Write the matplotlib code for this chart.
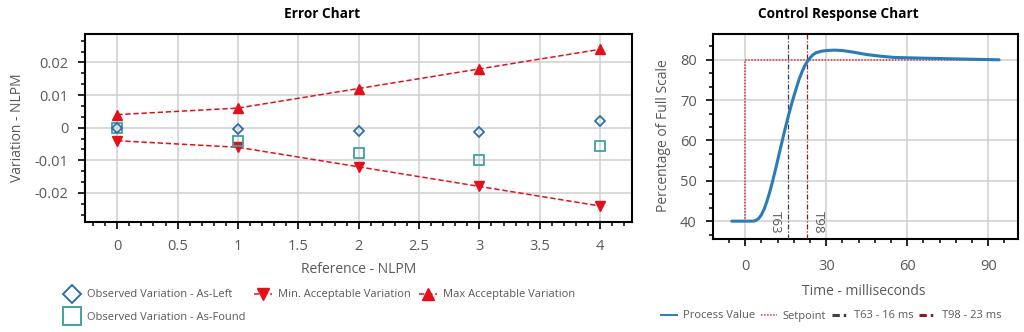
import matplotlib
matplotlib.use("Agg")
import matplotlib.pyplot as plt
from matplotlib.ticker import MultipleLocator, FuncFormatter
from matplotlib.lines import Line2D

plt.rcParams['font.family'] = ['Open Sans', 'DejaVu Sans']

# ---- Error chart data ----
reference = [0, 1, 2, 3, 4]
as_left = [0.0, -0.0004, -0.0009, -0.0014, 0.0021]
as_found = [0.0, -0.0041, -0.0077, -0.0098, -0.0056]
min_acceptable = [-0.004, -0.006, -0.012, -0.018, -0.024]
max_acceptable = [0.004, 0.006, 0.012, 0.018, 0.024]

# ---- Control response data ----
time_ms = [-5, 3, 4, 5, 6, 7, 8, 9, 10, 11, 12, 13, 14, 15, 16, 17, 18, 19, 20,
           21, 22, 23, 24, 25, 26, 28, 30, 33, 36, 40, 45, 50, 55, 60, 70, 80, 94]
process_value = [40, 40, 40.2, 40.7, 41.6, 43.0, 44.9, 47.1, 49.6, 52.3, 55.1, 58.0,
                 60.8, 63.6, 66.2, 68.7, 71.0, 73.2, 75.3, 77.0, 78.5, 79.6, 80.5,
                 81.2, 81.7, 82.1, 82.3, 82.4, 82.3, 81.9, 81.3, 80.9, 80.6, 80.5,
                 80.35, 80.2, 80.0]
setpoint_time = [-5, 0, 0, 94]
setpoint_value = [40, 40, 80, 80]
t63 = 16
t98 = 23

RED = '#e3101c'
GRID = '#d0d0d0'
LABEL = '#595959'


def fmt_num(v, pos=None):
    s = f"{v:.6g}"
    return "0" if s in ("-0", "0") else s


fig = plt.figure(figsize=(10.24, 3.32), dpi=100)

# ================= Error Chart =================
ax1 = fig.add_axes([85 / 1024, 1 - 222 / 332, 547.3 / 1024, 188 / 332])
ax1.plot(reference, max_acceptable, linestyle=(0, (3.5, 1.8)), color=RED, lw=1.1,
         marker='^', markersize=7.5, markerfacecolor=RED, markeredgecolor=RED, zorder=3)
ax1.plot(reference, min_acceptable, linestyle=(0, (3.5, 1.8)), color=RED, lw=1.1,
         marker='v', markersize=7.5, markerfacecolor=RED, markeredgecolor=RED, zorder=3)
ax1.plot(reference, as_found, linestyle='none', marker='s', markersize=6.5,
         markerfacecolor='none', markeredgecolor='#3fa2a6', markeredgewidth=1.3, zorder=4)
ax1.plot(reference, as_left, linestyle='none', marker='D', markersize=5.2,
         markerfacecolor='none', markeredgecolor='#2f6fa8', markeredgewidth=1.3, zorder=5)

ax1.set_xlim(-0.267, 4.267)
ax1.set_ylim(-0.0289, 0.0287)
ax1.xaxis.set_major_locator(MultipleLocator(0.5))
ax1.xaxis.set_minor_locator(MultipleLocator(0.1))
ax1.yaxis.set_major_locator(MultipleLocator(0.01))
ax1.yaxis.set_minor_locator(MultipleLocator(0.01 / 3))
ax1.xaxis.set_major_formatter(FuncFormatter(fmt_num))
ax1.yaxis.set_major_formatter(FuncFormatter(fmt_num))
ax1.tick_params(axis='x', which='major', pad=7.5)
ax1.set_xlabel("Reference - NLPM", fontsize=10, color=LABEL, va='center')
ax1.xaxis.set_label_coords(0.5, -0.255)
ax1.set_ylabel("Variation - NLPM", fontsize=10, color=LABEL, va='center', ha='center')
ax1.yaxis.set_label_coords(-0.124, 0.5)

legend_handles = [
    Line2D([], [], linestyle='none', marker='D', markersize=9.2, markerfacecolor='none',
           markeredgecolor='#2f6fa8', markeredgewidth=1.4),
    Line2D([], [], linestyle='none', marker='s', markersize=12.5, markerfacecolor='none',
           markeredgecolor='#3fa2a6', markeredgewidth=1.4),
    Line2D([], [], linestyle=(0, (3.5, 1.8)), color=RED, lw=1.1, marker='v', markersize=9,
           markerfacecolor=RED, markeredgecolor=RED),
    Line2D([], [], linestyle=(0, (3.5, 1.8)), color=RED, lw=1.1, marker='^', markersize=9,
           markerfacecolor=RED, markeredgecolor=RED),
]
legend_labels = ["Observed Variation - As-Left", "Observed Variation - As-Found",
                 "Min. Acceptable Variation", "Max Acceptable Variation"]
leg1 = ax1.legend(legend_handles, legend_labels, ncol=3, loc='center left',
                  bbox_to_anchor=(63 / 1024, 1 - 306 / 332), bbox_transform=fig.transFigure,
                  frameon=False, fontsize=8, handlelength=1.66, handletextpad=0.5,
                  columnspacing=0.75, labelspacing=1.0, borderpad=0, borderaxespad=0)
for t in leg1.get_texts():
    t.set_color(LABEL)

fig.text(322 / 1024, 1 - 14 / 332, "Error Chart", ha='center', va='center',
         fontsize=9.8, fontweight='bold')

# ================= Control Response Chart =================
ax2 = fig.add_axes([713.3 / 1024, 1 - 239.3 / 332, 304.4 / 1024, 205.3 / 332])
ax2.plot(setpoint_time, setpoint_value, linestyle=(0, (1, 1)), color='#e0303a', lw=1.1, zorder=3)
ax2.axvline(t63, linestyle=(0, (4, 1.5, 1, 1.5)), color='#3b3d55', lw=0.9, zorder=3)
ax2.axvline(t98, linestyle=(0, (4, 1.5, 1, 1.5)), color='#8b1c1c', lw=0.9, zorder=3)
ax2.plot(time_ms, process_value, color='#2c7bb6', lw=2.2, solid_capstyle='round',
         solid_joinstyle='round', zorder=4)

ax2.annotate("T63", xy=(t63, 42.4), xytext=(-4.5, 0), textcoords='offset points',
             rotation=270, ha='right', va='top', fontsize=9.5, color=LABEL)
ax2.annotate("T98", xy=(t98, 42.4), xytext=(3.5, 0), textcoords='offset points',
             rotation=270, ha='left', va='top', fontsize=9.5, color=LABEL)

ax2.set_xlim(-11.85, 100.9)
ax2.set_ylim(35.5, 86.4)
ax2.xaxis.set_major_locator(MultipleLocator(30))
ax2.xaxis.set_minor_locator(MultipleLocator(6))
ax2.yaxis.set_major_locator(MultipleLocator(10))
ax2.yaxis.set_minor_locator(MultipleLocator(10 / 3))
ax2.tick_params(axis='x', which='major', pad=9)
ax2.set_xlabel("Time - milliseconds", fontsize=10, color=LABEL, va='center')
ax2.xaxis.set_label_coords(0.495, -0.252)
ax2.set_ylabel("Percentage of Full Scale", fontsize=10, color=LABEL, va='center', ha='center')
ax2.yaxis.set_label_coords(-0.162, 0.503)

resp_handles = [
    Line2D([], [], color='#2c7bb6', lw=1.4),
    Line2D([], [], linestyle=(0, (1, 1)), color='#e0303a', lw=1.1),
    Line2D([], [], linestyle=(0, (2.4, 1.3, 0.8, 2)), color='#3b3d55', lw=2.2),
    Line2D([], [], linestyle=(0, (2.4, 1.3, 0.8, 2)), color='#8b1c1c', lw=2.2),
]
resp_labels = ["Process Value", "Setpoint", f"T63 - {t63} ms", f"T98 - {t98} ms"]
leg2 = ax2.legend(resp_handles, resp_labels, ncol=4, loc='center left',
                  bbox_to_anchor=(660.7 / 1024, 1 - 316 / 332), bbox_transform=fig.transFigure,
                  frameon=False, fontsize=8, handlelength=1.5, handletextpad=0.5,
                  columnspacing=0.5, borderpad=0, borderaxespad=0)
for t in leg2.get_texts():
    t.set_color(LABEL)

fig.text(838 / 1024, 1 - 14 / 332, "Control Response Chart", ha='center', va='center',
         fontsize=9.8, fontweight='bold')

# ---- shared axis styling ----
for ax in (ax1, ax2):
    ax.grid(True, which='major', color=GRID, lw=1.1)
    ax.set_axisbelow(True)
    for sp in ax.spines.values():
        sp.set_linewidth(1.5)
        sp.set_color('black')
    ax.tick_params(which='major', direction='out', length=5, width=1.2, color='black',
                   labelcolor=LABEL, labelsize=10.5)
    ax.tick_params(axis='y', which='major', pad=7)
    ax.tick_params(which='minor', direction='out', length=3, width=1.1, color='black')

fig.savefig("out.png", dpi=100)
